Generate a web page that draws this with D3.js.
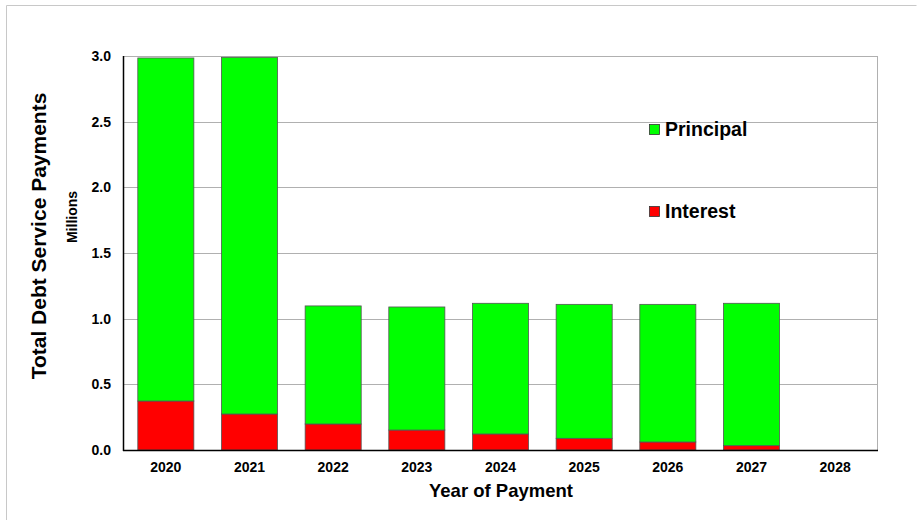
<!DOCTYPE html>
<html>
<head>
<meta charset="utf-8">
<script src="https://cdn.jsdelivr.net/npm/d3@7"></script>
<style>
  body { margin: 0; background: #fff; }
  svg text { font-family: Arial, "Liberation Sans", sans-serif; font-weight: bold; fill: #000; }
</style>
</head>
<body>
<div id="chart"></div>
<script>
const years = ["2020", "2021", "2022", "2023", "2024", "2025", "2026", "2027", "2028"];
const interest = [0.373, 0.274, 0.198, 0.152, 0.122, 0.089, 0.061, 0.033, 0];
const principal = [2.612, 2.716, 0.899, 0.937, 0.995, 1.020, 1.048, 1.084, 0];
const yTicks = [0, 0.5, 1.0, 1.5, 2.0, 2.5, 3.0];

const W = 917, H = 520;
const margin = { top: 56, right: 40, bottom: 70, left: 124 };
const width = W - margin.left - margin.right;   // 753
const height = H - margin.top - margin.bottom;  // 394

const svg = d3.select("#chart").append("svg")
  .attr("width", W)
  .attr("height", H);

// outer frame
svg.append("path")
  .attr("d", `M6.5,${H} V5.5 H916.5`)
  .attr("fill", "none")
  .attr("stroke", "#c8c8c8");

const g = svg.append("g")
  .attr("transform", `translate(${margin.left},${margin.top})`);

const x = d3.scaleBand()
  .domain(years)
  .range([0, width])
  .paddingInner(0.33)
  .paddingOuter(0.165);

const y = d3.scaleLinear()
  .domain([0, 3])
  .range([height, 0]);

// gridlines
g.selectAll(".grid")
  .data(yTicks.filter(d => d > 0))
  .join("line")
  .attr("x1", 0)
  .attr("x2", width)
  .attr("y1", d => Math.round(y(d)) + 0.5)
  .attr("y2", d => Math.round(y(d)) + 0.5)
  .attr("stroke", "#b0b0b0");

// right border
g.append("line")
  .attr("x1", width + 0.5).attr("x2", width + 0.5)
  .attr("y1", 0).attr("y2", height)
  .attr("stroke", "#b0b0b0");

const series = years.map((yr, i) => ({ year: yr, interest: interest[i], principal: principal[i] }));
const stack = d3.stack().keys(["interest", "principal"])(series);
const colors = { interest: "#ff0000", principal: "#00ff00" };

g.selectAll(".layer")
  .data(stack)
  .join("g")
  .attr("fill", d => colors[d.key])
  .selectAll("rect")
  .data(d => d.filter(v => v[1] - v[0] > 0))
  .join("rect")
  .attr("x", d => x(d.data.year))
  .attr("y", d => y(d[1]))
  .attr("width", x.bandwidth())
  .attr("height", d => y(d[0]) - y(d[1]))
  .attr("stroke", "#555")
  .attr("stroke-width", 0.8);

// axes lines
g.append("line")
  .attr("x1", -0.5).attr("x2", -0.5)
  .attr("y1", 0).attr("y2", height + 1)
  .attr("stroke", "#000").attr("stroke-width", 1.5);
g.append("line")
  .attr("x1", -1).attr("x2", width + 1)
  .attr("y1", height + 0.5).attr("y2", height + 0.5)
  .attr("stroke", "#000").attr("stroke-width", 1.5);

// y tick labels
g.selectAll(".ytick")
  .data(yTicks)
  .join("text")
  .attr("x", -13)
  .attr("y", d => y(d))
  .attr("dy", "0.35em")
  .attr("text-anchor", "end")
  .style("font-size", "14px")
  .text(d3.format(".1f"));

// x tick labels
g.selectAll(".xtick")
  .data(years)
  .join("text")
  .attr("x", d => x(d) + x.bandwidth() / 2)
  .attr("y", height + 22)
  .attr("text-anchor", "middle")
  .style("font-size", "14px")
  .text(d => d);

// axis titles
svg.append("text")
  .attr("x", 501)
  .attr("y", 497)
  .attr("text-anchor", "middle")
  .style("font-size", "18.5px")
  .text("Year of Payment");

svg.append("text")
  .attr("transform", "translate(46,236) rotate(-90)")
  .attr("text-anchor", "middle")
  .style("font-size", "21px")
  .text("Total Debt Service Payments");

svg.append("text")
  .attr("transform", "translate(77,217) rotate(-90)")
  .attr("text-anchor", "middle")
  .style("font-size", "14px")
  .text("Millions");

// legend
const legendItems = [
  { key: "principal", label: "Principal", y: 124 },
  { key: "interest", label: "Interest", y: 206 }
];
const legend = svg.selectAll(".legend")
  .data(legendItems)
  .join("g")
  .attr("transform", d => `translate(649.5,${d.y + 0.5})`);
legend.append("rect")
  .attr("width", 10)
  .attr("height", 10)
  .attr("fill", d => colors[d.key])
  .attr("stroke", "#333")
  .attr("stroke-width", 0.8);
legend.append("text")
  .attr("x", 15.5)
  .attr("y", 11.5)
  .style("font-size", "19.5px")
  .text(d => d.label);
</script>
</body>
</html>
